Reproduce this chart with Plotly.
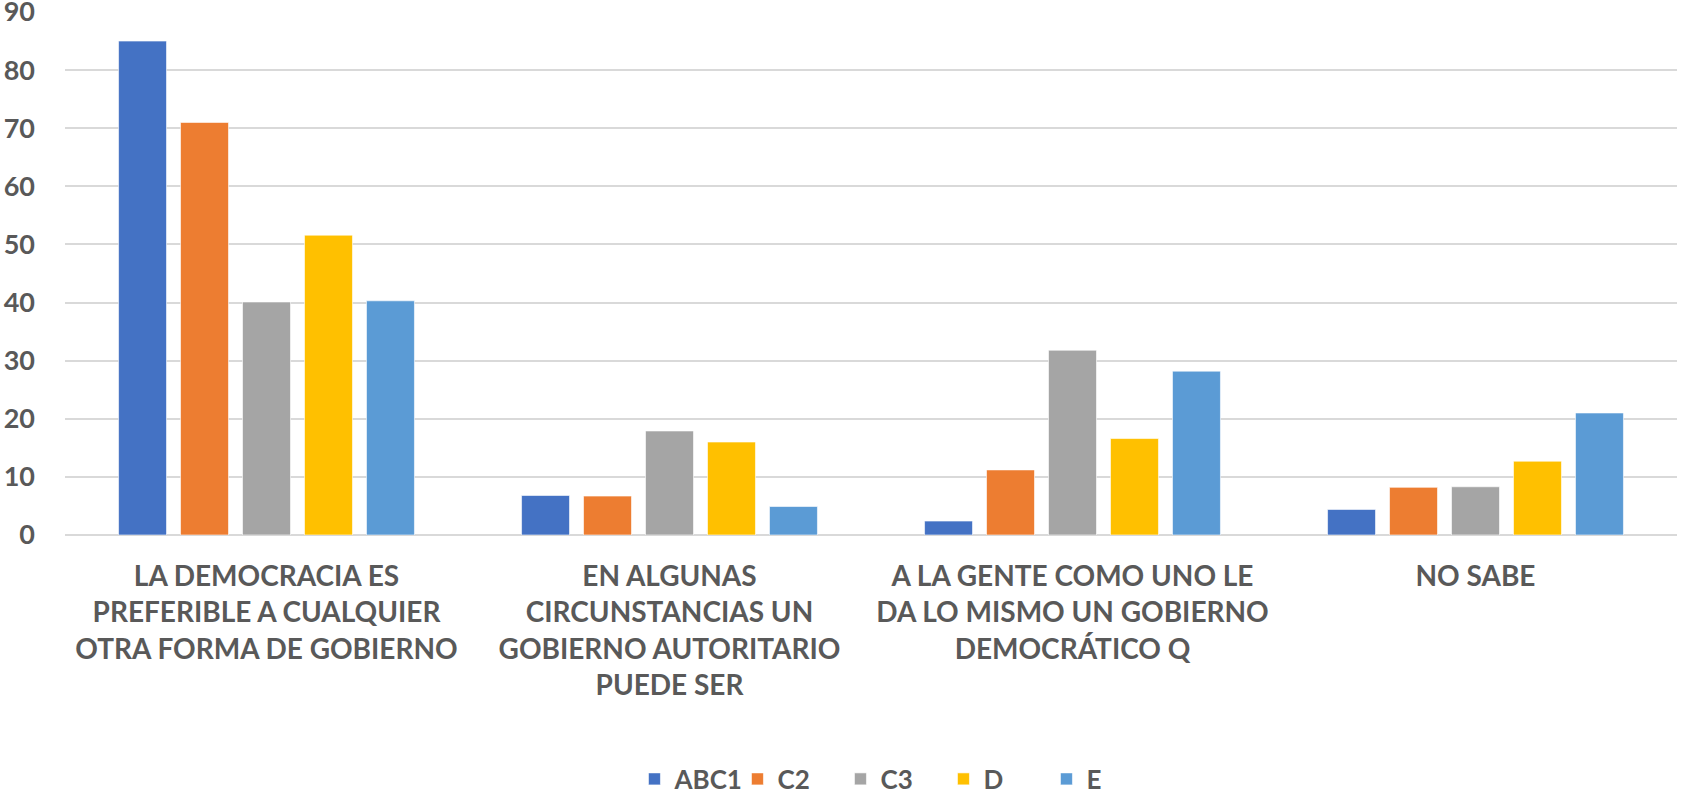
import plotly.graph_objects as go

categories = [
    "LA DEMOCRACIA ES<br>PREFERIBLE A CUALQUIER<br>OTRA FORMA DE GOBIERNO",
    "EN ALGUNAS<br>CIRCUNSTANCIAS UN<br>GOBIERNO AUTORITARIO<br>PUEDE SER",
    "A LA GENTE COMO UNO LE<br>DA LO MISMO UN GOBIERNO<br>DEMOCRÁTICO Q",
    "NO SABE",
]
series_names = ["ABC1", "C2", "C3", "D", "E"]
abc1 = [85.0, 6.8, 2.4, 4.4]
c2 = [71.0, 6.7, 11.2, 8.2]
c3 = [40.1, 17.9, 31.8, 8.3]
d = [51.6, 16.0, 16.6, 12.7]
e = [40.3, 4.9, 28.2, 21.0]
colors = ["#4472C4", "#ED7D31", "#A5A5A5", "#FFC000", "#5B9BD5"]
y_ticks = [0, 10, 20, 30, 40, 50, 60, 70, 80, 90]

FONT = "Lato, Roboto, Open Sans, sans-serif"
TEXT_COLOR = "#595959"

fig = go.Figure()
for name, vals, col in zip(series_names, [abc1, c2, c3, d, e], colors):
    fig.add_trace(go.Bar(
        x=categories, y=vals, name=name,
        marker=dict(color=col, line=dict(color="rgba(255,255,255,0.6)", width=1)),
    ))

fig.update_layout(
    width=1681, height=794,
    barmode="group", bargap=0.231, bargroupgap=0.226,
    plot_bgcolor="white", paper_bgcolor="white",
    margin=dict(l=65, r=4, t=12, b=259, autoexpand=False),
    font=dict(family=FONT, size=28, color=TEXT_COLOR),
    legend=dict(orientation="h", x=0.513, xanchor="center", y=-0.4665, yanchor="middle",
                font=dict(family=FONT, size=26, color=TEXT_COLOR, weight="bold"),
                traceorder="normal", entrywidth=58, entrywidthmode="pixels"),
    showlegend=True,
)
fig.update_yaxes(
    range=[0, 90], tickvals=y_ticks, showgrid=True, gridcolor="#D9D9D9", gridwidth=1.5,
    zeroline=True, zerolinecolor="#D9D9D9", zerolinewidth=1.5,
    showline=False, ticks="", ticklabelstandoff=29, automargin=False,
    ticklabeloverflow="allow",
    tickfont=dict(family=FONT, size=27, color=TEXT_COLOR, weight="bold"),
)
fig.update_xaxes(
    showgrid=False, showline=False, ticks="", ticklabelstandoff=22, automargin=False,
    tickfont=dict(family=FONT, size=28, color=TEXT_COLOR, weight="bold"),
    tickangle=0,
)

# remove the default page margin so the figure sits at the window's top-left corner
fig.write_html("out.html", config={"displayModeBar": False},
               post_script="document.body.style.margin='0';")
